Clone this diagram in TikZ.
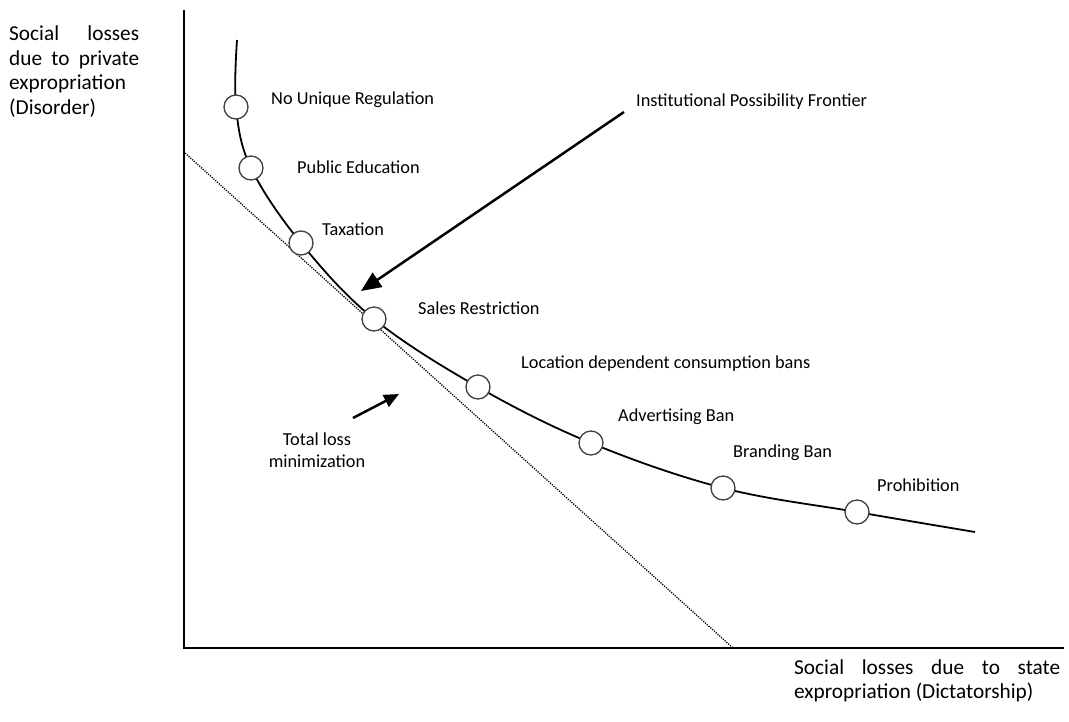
\documentclass[tikz,border=0pt]{standalone}
\usepackage{fontspec}
\setmainfont{Carlito}
\usetikzlibrary{arrows.meta}
\begin{document}
\begin{tikzpicture}[x=1pt,y=-1pt,
  axis/.style={line width=2pt},
  frontier/.style={line width=1.8pt},
  tangent/.style={line width=1.3pt,dash pattern=on 1.2pt off 1.2pt},
  policy/.style={circle,draw=black!75,fill=white,minimum size=24pt,inner sep=0pt,line width=1.3pt},
  lbl/.style={anchor=base west,inner sep=0pt,font=\fontsize{18.3}{22}\selectfont},
  axlbl/.style={anchor=north west,inner sep=0pt,align=left,font=\fontsize{21.3}{24.5}\selectfont},
  bigarrow/.style={line width=2.5pt,-{Triangle[length=20pt,width=17pt]}},
  smallarrow/.style={line width=2.5pt,-{Triangle[length=15pt,width=13pt]}}
]
\useasboundingbox (0,0) rectangle (1069,721);
% axes
\coordinate (ytop) at (184,10);
\coordinate (xend) at (1064,648);
\draw[axis] (ytop) |- (xend);
% tangent line
\coordinate (d1) at (185,153);
\coordinate (d2) at (733,648);
\draw[tangent] (d1) -- (d2);
% frontier points
\coordinate (top) at (237,40);
\coordinate (p1) at (236,107);
\coordinate (p2) at (251,168);
\coordinate (p3) at (301,243);
\coordinate (p4) at (374,319);
\coordinate (p5) at (478,387);
\coordinate (p6) at (591,443);
\coordinate (p7) at (723,488);
\coordinate (p8) at (857,512);
\coordinate (bot) at (975,532);
\draw[frontier] plot[smooth,tension=0.6] coordinates {(top) (p1) (p2) (p3) (p4) (p5) (p6) (p7) (p8) (bot)};
\foreach \i in {1,...,8} { \node[policy] (c\i) at (p\i) {}; }
% labels
\node[lbl] (l1) at (271,104) {No Unique Regulation};
\node[lbl] (l2) at (297,173) {Public Education};
\node[lbl] (l3) at (322,235) {Taxation};
\node[lbl] (l4) at (418,314) {Sales Restriction};
\node[lbl] (l5) at (521,368) {Location dependent consumption bans};
\node[lbl] (l6) at (618,421) {Advertising Ban};
\node[lbl] (l7) at (733,457) {Branding Ban};
\node[lbl] (l8) at (877,491) {Prohibition};
\node[lbl] (ipf) at (636,106) {Institutional Possibility Frontier};
\node[anchor=center,inner sep=0pt,align=center,font=\fontsize{18.3}{22}\selectfont] (tlm) at (317,450) {Total loss\\minimization};
% arrows
\coordinate (a1s) at (624,112);
\coordinate (a1e) at (361,291);
\draw[bigarrow] (a1s) -- (a1e);
\coordinate (a2s) at (353,418);
\coordinate (a2e) at (399,394);
\draw[smallarrow] (a2s) -- (a2e);
% axis labels
\node[axlbl] (ylab) at (9,26) {\makebox[130pt][s]{Social losses}\\\makebox[130pt][s]{due to private}\\expropriation\\(Disorder)};
\node[axlbl] (xlab) at (794,659) {\makebox[266pt][s]{Social losses due to state}\\expropriation (Dictatorship)};
\end{tikzpicture}
\end{document}
